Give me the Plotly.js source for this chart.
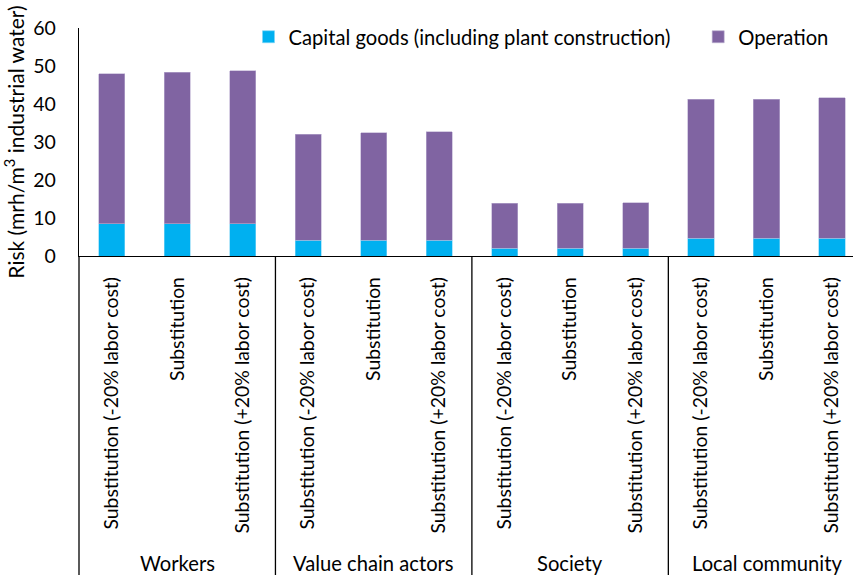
<!DOCTYPE html>
<html>
<head>
<meta charset="utf-8">
<script src="https://cdn.plot.ly/plotly-3.0.1.min.js"></script>
<style>html,body{margin:0;padding:0;background:#fff;}#chart{width:853px;height:575px;}</style>
</head>
<body>
<div id="chart"></div>
<script>
const groups = ['Workers', 'Value chain actors', 'Society', 'Local community'];
const scenarios = ['Substitution (-20% labor cost)', 'Substitution', 'Substitution (+20% labor cost)'];
const capitalGoods = [8.5, 8.5, 8.5, 4.2, 4.2, 4.2, 2.0, 2.0, 2.0, 4.7, 4.7, 4.7];
const operation = [39.4, 39.9, 40.3, 27.9, 28.2, 28.5, 11.9, 11.9, 12.0, 36.5, 36.6, 36.9];
const yTicks = [0, 10, 20, 30, 40, 50, 60];

const FONT = 'Lato, "Open Sans", sans-serif';
const labels = [];
groups.forEach(() => scenarios.forEach(s => labels.push(s)));
const xIdx = labels.map((_, i) => i);
const r0 = -0.5, r1 = labels.length - 0.5 - 0.18;

const traces = [
  {type: 'bar', name: 'Capital goods (including plant construction)', x: xIdx, y: capitalGoods, legend: 'legend',
   marker: {color: '#00B0F0', line: {color: '#7FD6F6', width: 0.6}}},
  {type: 'bar', name: 'Operation', x: xIdx, y: operation, legend: 'legend2',
   marker: {color: '#8064A2', line: {color: '#BBAED0', width: 0.6}}}
];

const toPaper = v => (v - r0) / (r1 - r0);
const shapes = [];
const annotations = [];
const n = scenarios.length;
groups.forEach((g, gi) => {
  const bx = gi * n - 0.5;
  shapes.push({type: 'line', xref: 'paper', yref: 'paper', x0: toPaper(bx), x1: toPaper(bx), y0: 0, y1: -1.45,
               line: {color: '#000', width: 1.3}});
  annotations.push({xref: 'x', yref: 'paper', x: gi * n + (n - 1) / 2, y: -1.346, text: g, showarrow: false,
                    xanchor: 'center', yanchor: 'middle', font: {family: FONT, size: 20.2, color: '#000'}});
});

const legendFont = {family: FONT, size: 20.2, color: '#000'};
const layout = {
  width: 853, height: 575,
  margin: {l: 79, r: 0, t: 28, b: 319},
  paper_bgcolor: '#fff', plot_bgcolor: '#fff',
  barmode: 'stack', bargap: 0.6,
  font: {family: FONT, size: 18, color: '#000'},
  showlegend: true,
  legend: {orientation: 'h', x: 0.219, xanchor: 'left', y: 0.96, yanchor: 'middle',
           bgcolor: 'rgba(0,0,0,0)', font: legendFont},
  legend2: {orientation: 'h', x: 0.8, xanchor: 'left', y: 0.96, yanchor: 'middle',
           bgcolor: 'rgba(0,0,0,0)', font: legendFont},
  xaxis: {range: [r0, r1], tickmode: 'array', tickvals: xIdx, ticktext: labels, tickangle: -90,
          showline: true, linecolor: '#000', linewidth: 1.3, showgrid: false, zeroline: false,
          ticks: '', ticklabelstandoff: 12, tickfont: {family: FONT, size: 19.4, color: '#000'}, automargin: false},
  yaxis: {range: [0, 60], tickmode: 'array', tickvals: yTicks, showline: true, linecolor: '#000', linewidth: 1.3,
          showgrid: false, zeroline: false, ticks: '', ticklabelstandoff: 18,
          tickfont: {family: FONT, size: 19.5, color: '#000'}, automargin: false,
          title: {text: 'Risk (mrh/m<sup>3</sup> industrial water)', font: {family: FONT, size: 21, color: '#000'}, standoff: 8}},
  shapes: shapes,
  annotations: annotations
};

Plotly.newPlot('chart', traces, layout, {staticPlot: true, displayModeBar: false});
</script>
</body>
</html>
